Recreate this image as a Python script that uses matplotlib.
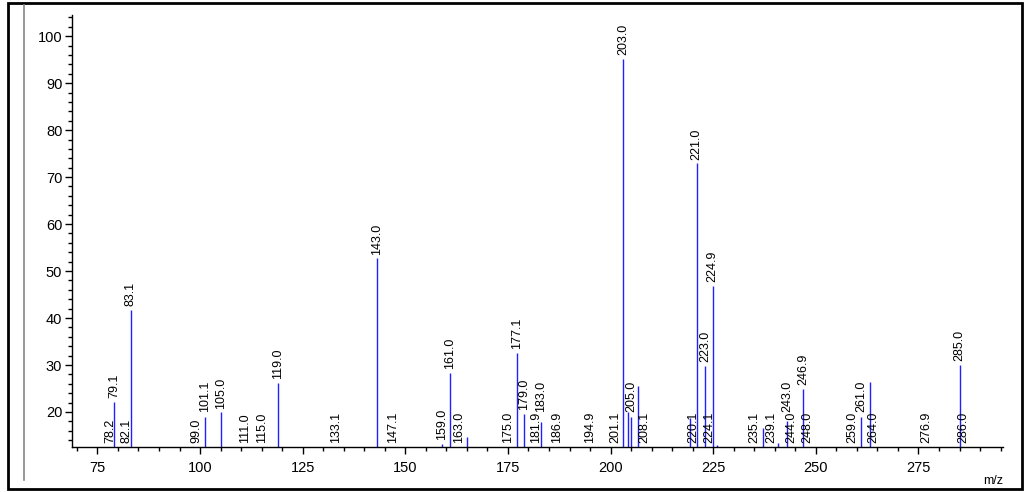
import matplotlib.pyplot as plt
from matplotlib.lines import Line2D
from matplotlib.patches import Rectangle
from matplotlib.ticker import MultipleLocator

plt.rcParams['font.family'] = ['Liberation Sans', 'DejaVu Sans']

# peaks: m/z, relative intensity, label ("" = no label)
mz = [78.2, 79.1, 82.1, 83.1, 99.0, 101.1, 105.0, 111.0, 115.0, 119.0,
      133.1, 143.0, 147.1, 159.0, 161.0, 163.0, 165.0, 175.0, 177.1, 179.0,
      181.9, 183.0, 186.9, 194.9, 201.1, 203.0, 204.2, 205.0, 206.8, 208.1,
      219.3, 220.1, 221.0, 223.0, 224.1, 224.9, 226.0, 235.1, 237.1, 239.1,
      240.9, 243.0, 244.0, 246.9, 248.0, 259.0, 261.0, 263.2, 264.0, 276.9,
      285.0, 286.0]
intensity = [12, 22.2, 12, 41.7, 12, 19.0, 19.9, 12, 12, 26.2,
             12, 52.7, 12, 13.2, 28.4, 12, 14.6, 12, 32.6, 19.6,
             12, 17.9, 12, 12, 12, 95.2, 20.0, 19.0, 25.5, 12,
             18.7, 12, 72.9, 29.8, 12, 46.8, 13.0, 12, 16.5, 12,
             13.3, 18.0, 12, 24.9, 12, 12, 19.0, 26.3, 12, 12,
             30.0, 12]
labels = ["78.2", "79.1", "82.1", "83.1", "99.0", "101.1", "105.0", "111.0", "115.0", "119.0",
          "133.1", "143.0", "147.1", "159.0", "161.0", "163.0", "", "175.0", "177.1", "179.0",
          "181.9", "183.0", "186.9", "194.9", "201.1", "203.0", "", "205.0", "", "208.1",
          "", "220.1", "221.0", "223.0", "224.1", "224.9", "", "235.1", "", "239.1",
          "", "243.0", "244.0", "246.9", "248.0", "259.0", "261.0", "", "264.0", "276.9",
          "285.0", "286.0"]

ymin, ymax = 12.55, 104.5

fig = plt.figure(figsize=(10.30, 4.92), dpi=100)
ax = fig.add_axes([0.0699, 0.0915, 0.9039, 0.878])

ax.vlines(mz, ymin, intensity, color='#2020ff', linewidth=1)
for m, h, lab in zip(mz, intensity, labels):
    if not lab:
        continue
    if h > 15:
        # labels of visible peaks sit above the low baseline labels
        y = max(h + 0.8, 20)
    else:
        y = max(h, ymin) + 0.8
    ax.text(m, y, lab, rotation=90, ha='center', va='bottom', fontsize=9, color='black')

ax.set_xlim(68.8, 295.6)
ax.set_ylim(ymin, ymax)
ax.xaxis.set_major_locator(MultipleLocator(25))
ax.xaxis.set_minor_locator(MultipleLocator(5))
ax.yaxis.set_minor_locator(MultipleLocator(2))
ax.set_yticks(range(20, 101, 10))
ax.spines['top'].set_visible(False)
ax.spines['right'].set_visible(False)
for s in ('left', 'bottom'):
    ax.spines[s].set_linewidth(1)
ax.tick_params(which='major', length=5, width=1, labelsize=10.5, pad=2)
ax.tick_params(axis='x', which='major', pad=5)
ax.tick_params(which='minor', length=3, width=1)
ax.text(1.0, -0.065, 'm/z', transform=ax.transAxes, ha='right', va='top', fontsize=9)

# outer frame and divider line
fig.patches.append(Rectangle((8 / 1030, 3 / 492), 1014 / 1030, 486 / 492, transform=fig.transFigure,
                             fill=False, edgecolor='black', linewidth=2))
fig.lines.append(Line2D([24 / 1030, 24 / 1030], [12 / 492, 487 / 492], transform=fig.transFigure,
                        color='#888888', linewidth=1.2))

fig.savefig('out.png', dpi=100, facecolor='white')
